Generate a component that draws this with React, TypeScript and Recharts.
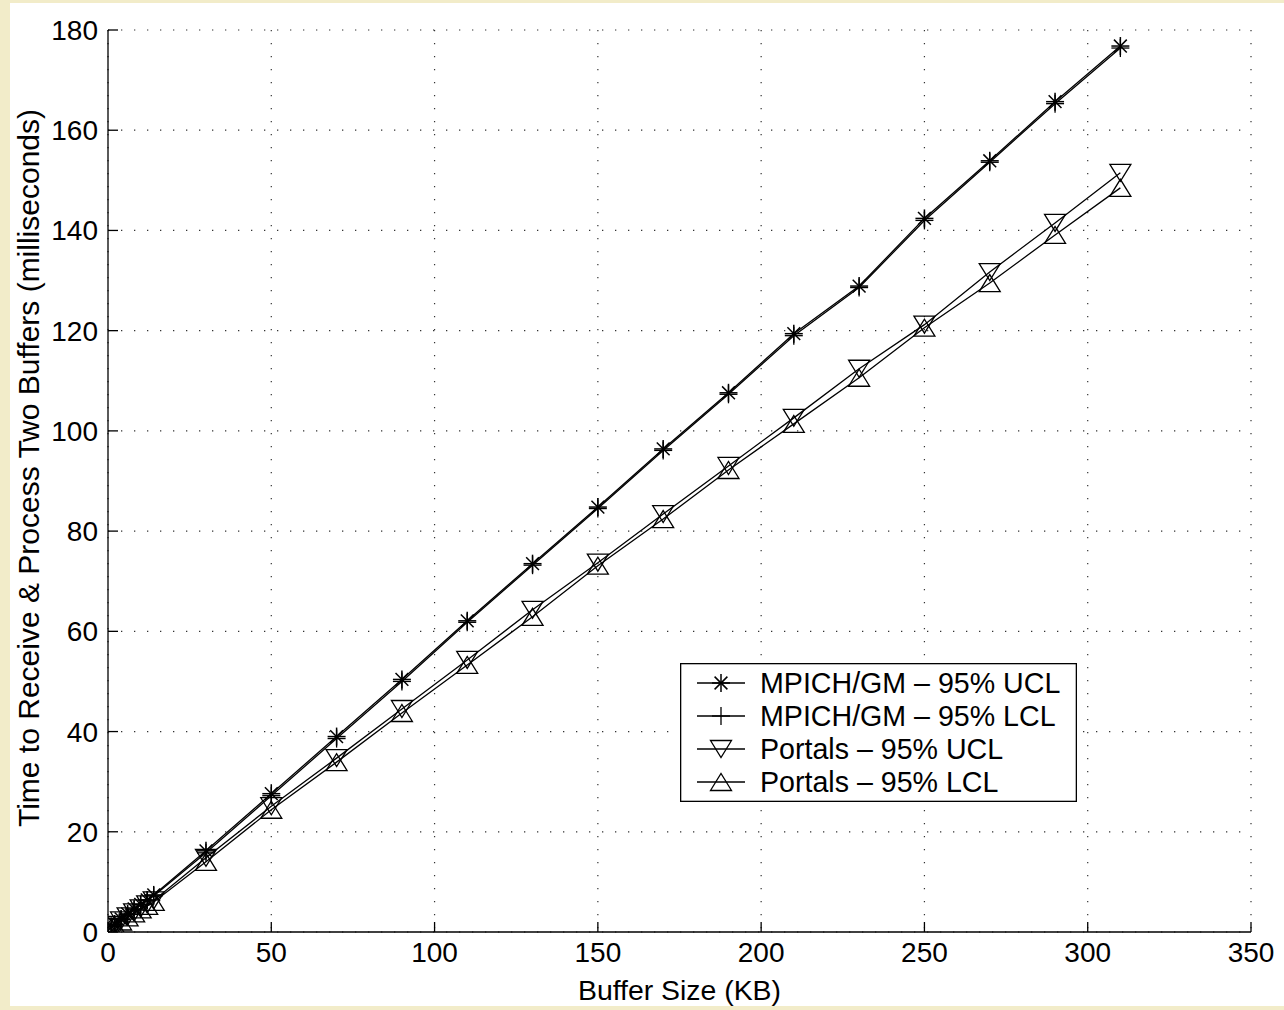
import React from "react";
import { LineChart, Line, XAxis, YAxis, CartesianGrid, Legend } from "recharts";

const sizeKB = [1, 2, 4, 6, 8, 10, 12, 14, 30, 50, 70, 90, 110, 130, 150, 170, 190, 210, 230, 250, 270, 290, 310];
const mpichUCL = [1.1, 1.6, 2.6, 3.6, 4.6, 5.5, 6.4, 7.4, 16.2, 27.6, 39.0, 50.4, 62.1, 73.5, 84.8, 96.4, 107.6, 119.4, 128.9, 142.4, 153.9, 165.7, 176.8];
const mpichLCL = [1.0, 1.5, 2.5, 3.5, 4.4, 5.4, 6.3, 7.2, 15.8, 27.2, 38.6, 50.0, 61.8, 73.2, 84.5, 96.1, 107.3, 119.0, 128.6, 142.0, 153.6, 165.3, 176.4];
const portalsUCL = [1.0, 1.4, 2.3, 3.1, 3.9, 4.7, 5.5, 6.3, 14.8, 25.1, 34.7, 44.5, 54.3, 64.3, 73.7, 83.4, 93.0, 102.6, 112.4, 121.2, 131.7, 141.5, 151.5];
const portalsLCL = [0.9, 1.3, 2.1, 2.9, 3.7, 4.5, 5.2, 6.0, 14.0, 24.4, 33.9, 43.7, 53.3, 62.9, 73.1, 82.4, 92.2, 101.4, 110.6, 120.6, 129.5, 139.1, 148.5];

const xTicks = [0, 50, 100, 150, 200, 250, 300, 350];
const yTicks = [0, 20, 40, 60, 80, 100, 120, 140, 160, 180];

const seriesNames = ["MPICH/GM \u2013 95% UCL", "MPICH/GM \u2013 95% LCL", "Portals \u2013 95% UCL", "Portals \u2013 95% LCL"];
const seriesKeys = ["mpichUCL", "mpichLCL", "portalsUCL", "portalsLCL"];
const seriesShapes = ["star", "plus", "down", "up"];

const data = sizeKB.map((kb, i) => ({
  kb,
  mpichUCL: mpichUCL[i],
  mpichLCL: mpichLCL[i],
  portalsUCL: portalsUCL[i],
  portalsLCL: portalsLCL[i],
}));

const FONT = "'Liberation Sans', Arial, Helvetica, sans-serif";
const SW = 1.3;

function Marker({ cx, cy, shape }: { cx: number; cy: number; shape: string }) {
  const r = 9;
  if (shape === "star") {
    const d = 6.4;
    return (
      <g stroke="#000" strokeWidth={1.5}>
        <line x1={cx - r} y1={cy} x2={cx + r} y2={cy} />
        <line x1={cx} y1={cy - r} x2={cx} y2={cy + r} />
        <line x1={cx - d} y1={cy - d} x2={cx + d} y2={cy + d} />
        <line x1={cx - d} y1={cy + d} x2={cx + d} y2={cy - d} />
      </g>
    );
  }
  if (shape === "plus") {
    return (
      <g stroke="#000" strokeWidth={SW}>
        <line x1={cx - r} y1={cy} x2={cx + r} y2={cy} />
        <line x1={cx} y1={cy - r} x2={cx} y2={cy + r} />
      </g>
    );
  }
  const w = 10.5;
  const h = 8.5;
  const pts =
    shape === "down"
      ? `${cx - w},${cy - h} ${cx + w},${cy - h} ${cx},${cy + h}`
      : `${cx - w},${cy + h} ${cx + w},${cy + h} ${cx},${cy - h}`;
  return <polygon points={pts} fill="none" stroke="#000" strokeWidth={SW} />;
}

const makeDot = (shape: string) => (props: any) => {
  const { cx, cy, index } = props;
  if (cx == null || cy == null) return <g key={`e${index}`} />;
  return (
    <g key={`${shape}-${index}`}>
      <Marker cx={cx} cy={cy} shape={shape} />
    </g>
  );
};

const BottomTick = (props: any) => {
  const { x, y, payload } = props;
  return (
    <g>
      <line x1={x} y1={y} x2={x} y2={y - 10} stroke="#000" strokeWidth={SW} />
      <text x={x} y={y + 30} textAnchor="middle" fontSize={28} fontFamily={FONT} fill="#000">
        {payload.value}
      </text>
    </g>
  );
};

const TopTick = (props: any) => {
  const { x, y } = props;
  return <line x1={x} y1={y} x2={x} y2={y + 10} stroke="#000" strokeWidth={SW} />;
};

const LeftTick = (props: any) => {
  const { x, y, payload } = props;
  return (
    <g>
      <line x1={x} y1={y} x2={x + 10} y2={y} stroke="#000" strokeWidth={SW} />
      <text x={x - 10} y={y + 10} textAnchor="end" fontSize={28} fontFamily={FONT} fill="#000">
        {payload.value}
      </text>
    </g>
  );
};

const RightTick = (props: any) => {
  const { x, y } = props;
  return <line x1={x} y1={y} x2={x - 10} y2={y} stroke="#000" strokeWidth={SW} />;
};

function LegendBox() {
  const W = 397;
  const H = 139;
  return (
    <svg width={W} height={H} style={{ display: "block" }}>
      <rect x={0.65} y={0.65} width={W - 1.3} height={H - 1.3} fill="#fff" stroke="#000" strokeWidth={SW} />
      {seriesNames.map((name, i) => {
        const cy = 20 + i * 33;
        return (
          <g key={name}>
            <line x1={17} y1={cy} x2={65} y2={cy} stroke="#000" strokeWidth={SW} />
            <Marker cx={41} cy={cy} shape={seriesShapes[i]} />
            <text x={80} y={cy + 10} fontSize={28.6} fontFamily={FONT} fill="#000">
              {name}
            </text>
          </g>
        );
      })}
    </svg>
  );
}

export default function App() {
  return (
    <div style={{ position: "fixed", left: 0, top: 0, width: 1284, height: 1010, background: "#f2ecc9" }}>
      <div style={{ position: "absolute", left: 10, top: 3, width: 1274, height: 1003, background: "#fff" }}>
        <LineChart width={1274} height={1003} data={data} margin={{ top: 27, right: 33, bottom: 0, left: 0 }}>
          <CartesianGrid stroke="#333" strokeDasharray="1.3 11.7" strokeWidth={1.2} />
          <XAxis
            dataKey="kb"
            type="number"
            domain={[0, 350]}
            ticks={xTicks}
            interval={0}
            allowDataOverflow
            height={74}
            tickSize={0}
            tickMargin={0}
            tickLine={false}
            axisLine={{ stroke: "#000", strokeWidth: SW }}
            tick={<BottomTick />}
            label={{
              content: (p: any) => {
                const vb = p.viewBox || { x: 98, y: 929, width: 1143, height: 74 };
                return (
                  <text x={vb.x + vb.width / 2} y={997} textAnchor="middle" fontSize={28.4} fontFamily={FONT} fill="#000">
                    Buffer Size (KB)
                  </text>
                );
              },
            }}
          />
          <XAxis
            xAxisId="top"
            orientation="top"
            dataKey="kb"
            type="number"
            domain={[0, 350]}
            ticks={xTicks}
            interval={0}
            allowDataOverflow
            height={0}
            tickSize={0}
            tickMargin={0}
            tickLine={false}
            axisLine={{ stroke: "#000", strokeWidth: SW }}
            tick={<TopTick />}
          />
          <YAxis
            type="number"
            domain={[0, 180]}
            ticks={yTicks}
            interval={0}
            allowDataOverflow
            width={98}
            tickSize={0}
            tickMargin={0}
            tickLine={false}
            axisLine={{ stroke: "#000", strokeWidth: SW }}
            tick={<LeftTick />}
            label={{
              content: (p: any) => {
                const vb = p.viewBox || { x: 0, y: 27, width: 98, height: 902 };
                const cx = 29;
                const cy = vb.y + vb.height / 2 - 13;
                return (
                  <text
                    x={cx}
                    y={cy}
                    transform={`rotate(-90, ${cx}, ${cy})`}
                    textAnchor="middle"
                    fontSize={30}
                    fontFamily={FONT}
                    fill="#000"
                  >
                    Time to Receive &amp; Process Two Buffers (milliseconds)
                  </text>
                );
              },
            }}
          />
          <YAxis
            yAxisId="right"
            orientation="right"
            type="number"
            domain={[0, 180]}
            ticks={yTicks}
            interval={0}
            allowDataOverflow
            width={0}
            tickSize={0}
            tickMargin={0}
            tickLine={false}
            axisLine={{ stroke: "#000", strokeWidth: SW }}
            tick={<RightTick />}
          />
          {seriesKeys.map((k, i) => (
            <Line
              key={k}
              type="linear"
              dataKey={k}
              name={seriesNames[i]}
              stroke="#000"
              strokeWidth={SW}
              dot={makeDot(seriesShapes[i])}
              activeDot={false}
              isAnimationActive={false}
            />
          ))}
          <Legend
            layout="vertical"
            align="center"
            verticalAlign="middle"
            wrapperStyle={{ position: "absolute", left: 670, top: 660, width: 397, height: 139 }}
            content={() => <LegendBox />}
          />
        </LineChart>
      </div>
    </div>
  );
}
